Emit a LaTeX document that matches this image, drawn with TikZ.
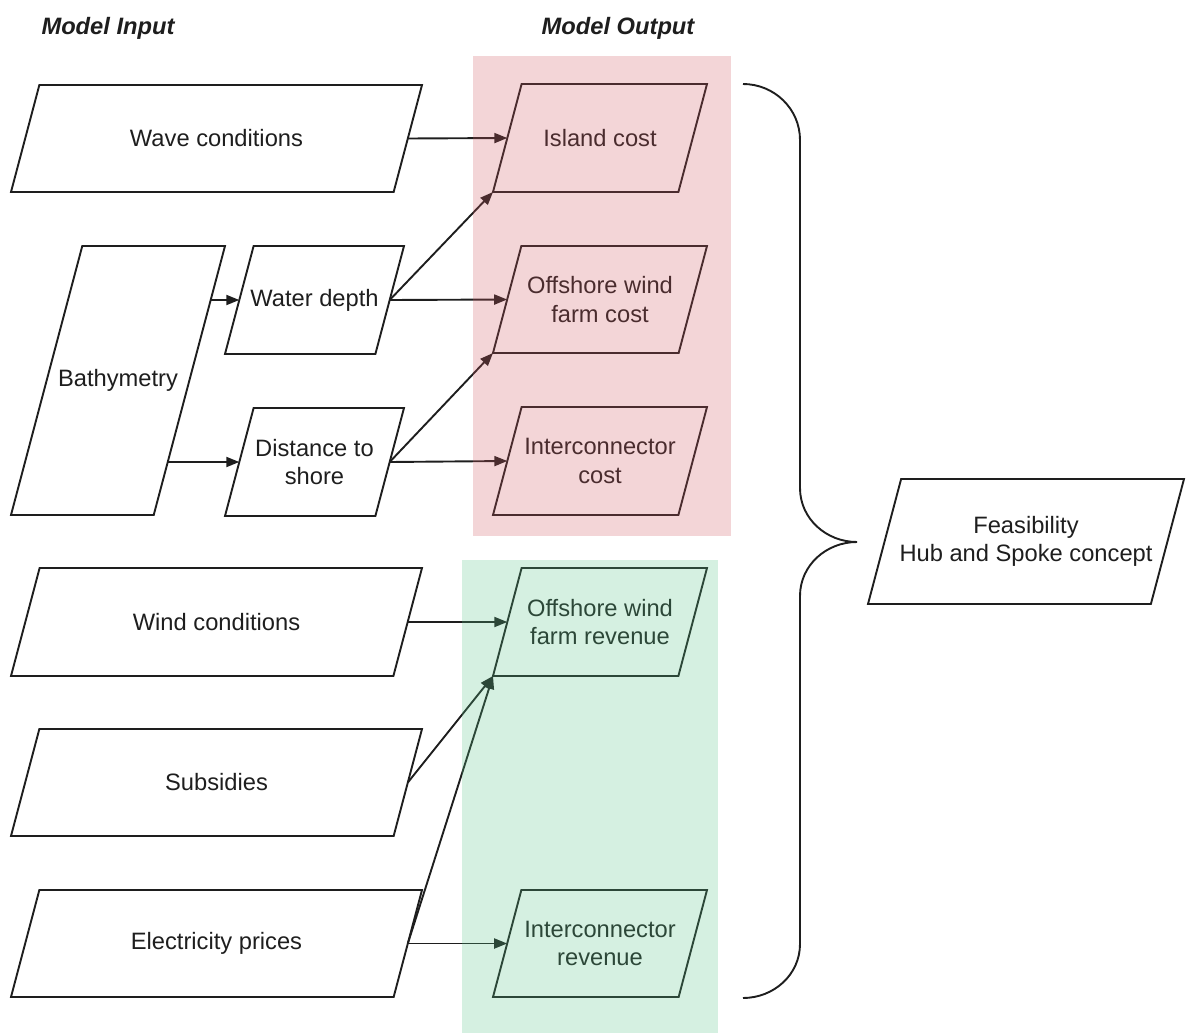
\documentclass[tikz,border=0pt]{standalone}
\usepackage{fontspec}
\setmainfont{Liberation Sans}
\usetikzlibrary{arrows.meta}

\definecolor{inkc}{RGB}{30,30,30}
\definecolor{costtint}{RGB}{207,87,95}
\definecolor{revtint}{RGB}{87,195,135}

\tikzset{
  boxline/.style={draw=inkc, line width=1.9pt, line join=miter},
  boxtext/.style={text=inkc, align=center, inner sep=0pt,
    font=\fontsize{23.7}{28.5}\selectfont},
  heading/.style={text=inkc, inner sep=0pt,
    font=\fontsize{23.7}{28.5}\selectfont\bfseries\itshape},
  link/.style={draw=inkc, line width=1.9pt,
    -{Triangle[length=13pt,width=10pt]}},
  plain/.style={draw=inkc, line width=1.9pt},
  tint/.style={fill=#1, fill opacity=0.25, draw=none}
}

% parallelogram: name, bottom-left x, top y, top-right x, bottom y, text
\newcommand\pbox[6]{%
  \pgfmathsetmacro\sk{0.265*(#5-#3)}%
  \draw[boxline] (#2+\sk,#3) -- (#4,#3) -- (#4-\sk,#5) -- (#2,#5) -- cycle;
  \node[boxtext] (#1) at ({(#2+#4)/2},{(#3+#5)/2}) {#6};
  \coordinate (#1-bl) at (#2,#5);
  \coordinate (#1-w) at ({#2+\sk/2},{(#3+#5)/2});
  \coordinate (#1-e) at ({#4-\sk/2},{(#3+#5)/2});
}

\begin{document}
\begin{tikzpicture}[x=1pt,y=-1pt]
\useasboundingbox (0,0) rectangle (1186,1033);

% headings
\node[heading] (hin) at (108,28) {Model Input};
\node[heading] (hout) at (618,28) {Model Output};

% inputs
\pbox{wave}{11}{85}{422}{192}{Wave conditions}
\pbox{bathy}{11}{246}{225}{515}{Bathymetry}
\pbox{water}{225}{246}{404}{354}{Water depth}
\pbox{dist}{225}{408}{404}{516}{Distance to\\shore}
\pbox{wind}{11}{568}{422}{676}{Wind conditions}
\pbox{subs}{11}{729}{422}{836}{Subsidies}
\pbox{elec}{11}{890}{422}{997}{Electricity prices}

% outputs
\pbox{island}{493}{84}{707}{192}{Island cost}
\pbox{owfc}{493}{246}{707}{353}{Offshore wind\\farm cost}
\pbox{icc}{493}{407}{707}{515}{Interconnector\\cost}
\pbox{owfr}{493}{568}{707}{676}{Offshore wind\\farm revenue}
\pbox{icr}{493}{890}{707}{997}{Interconnector\\revenue}

% result
\pbox{feas}{868}{479}{1184}{604}{Feasibility\\Hub and Spoke concept}

% departure points on the bathymetry edge
\coordinate (bathy-o1) at (210.6,300);
\coordinate (bathy-o2) at (167.8,462);

% connectors
\draw[link] (wave-e) -- (island-w);
\draw[link] (bathy-o1) -- (water-w);
\draw[link] (bathy-o2) -- (dist-w);
\draw[link] (water-e) -- (island-bl);
\draw[link] (water-e) -- (owfc-w);
\draw[link] (dist-e) -- (owfc-bl);
\draw[link] (dist-e) -- (icc-w);
\draw[link] (wind-e) -- (owfr-w);
\draw[link] (subs-e) -- (owfr-bl);
\draw[link] (elec-e) -- (owfr-bl);
\draw[link] (elec-e) -- (icr-w);

% brace gathering all outputs
\coordinate (brtip) at (857,542);
\draw[plain] (743,84) to[out=0,in=90] (800,140) -- (800,488)
  to[out=-90,in=180] (brtip) to[out=180,in=90] (800,596)
  -- (800,944) to[out=-90,in=0] (743,998);

% tinted groups
\fill[tint=costtint] (473,56) rectangle (731,536);
\fill[tint=revtint] (462,560) rectangle (718,1033);
\end{tikzpicture}
\end{document}
